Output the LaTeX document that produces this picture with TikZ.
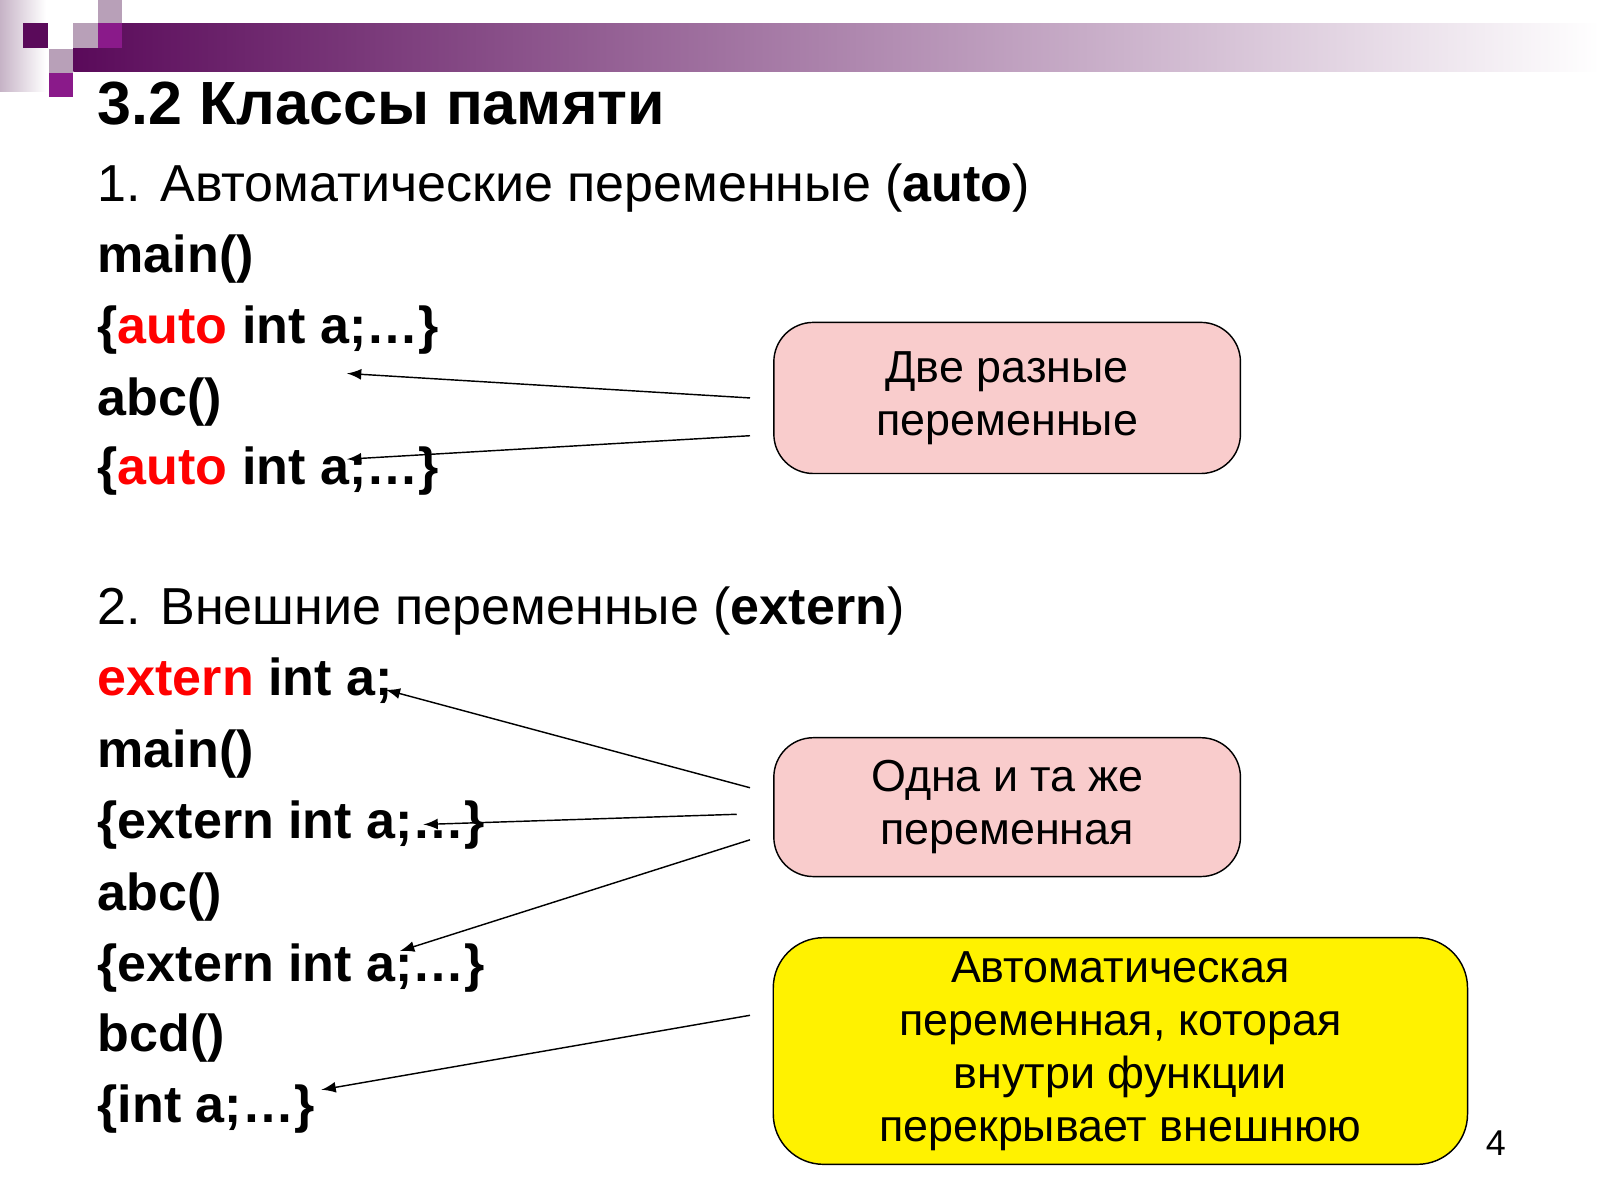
\documentclass[tikz,border=0pt]{standalone}
\usepackage{fontspec}
\setmainfont{Liberation Sans}
\begin{document}
\begin{tikzpicture}[x=0.01cm,y=-0.01cm,
 code/.style={anchor=base west,inner sep=0,font=\fontsize{14.5}{16}\selectfont\bfseries},
 head/.style={anchor=base west,inner sep=0,font=\fontsize{14.5}{16}\selectfont},
 box/.style={draw=black,rounded corners=11pt,align=center,font=\fontsize{12.5}{14.8}\selectfont,inner sep=0},
 arr/.style={-latex,thin}]
\definecolor{pur}{HTML}{5A0A5A}
\definecolor{purm}{HTML}{8A1A8A}
\definecolor{grp}{HTML}{B8A0B8}
\definecolor{pinkf}{HTML}{F9CCCC}
\useasboundingbox (0,0) rectangle (1568,1176);
\fill[white] (0,0) rectangle (1568,1176);
% decoration
\shade[left color=grp!80, right color=white] (0,0) rectangle (45,90);
\shade[left color=pur,right color=white] (72,23) rectangle (1568,70);
\fill[pur] (23,23) rectangle (47,47);
\fill[grp] (48,48) rectangle (72,72);
\fill[purm] (48,72) rectangle (72,95);
\fill[grp] (72,23) rectangle (96,47);
\fill[grp] (96,0) rectangle (120,23);
\fill[purm] (96,23) rectangle (120,47);
% texts
\node[anchor=base west,inner sep=0,font=\fontsize{17}{20}\selectfont\bfseries] (t) at (95,122) {3.2 Классы памяти};
\node[head] (h1) at (95,197) {1. Автоматические переменные (\textbf{auto})};
\node[code] (l1) at (95,267) {main()};
\node[code] (l2) at (95,337) {\{\textcolor{red}{auto} int a;…\}};
\node[code] (l3) at (95,407) {abc()};
\node[code] (l4) at (95,475) {\{\textcolor{red}{auto} int a;…\}};
\node[head] (h2) at (95,612) {2. Внешние переменные (\textbf{extern})};
\node[code] (m1) at (95,682) {\textcolor{red}{extern} int a;};
\node[code] (m2) at (95,752) {main()};
\node[code] (m3) at (95,822) {\{extern int a;…\}};
\node[code] (m4) at (95,892) {abc()};
\node[code] (m5) at (95,962) {\{extern int a;…\}};
\node[code] (m6) at (95,1030) {bcd()};
\node[code] (m7) at (95,1100) {\{int a;…\}};
\node[anchor=base,font=\fontsize{10}{12}\selectfont,inner sep=0] (pg) at (1466,1132) {4};
% boxes
\node[box,fill=pinkf,minimum width=4.57cm,minimum height=1.48cm] (b1) at (987,390) {Две разные\\переменные};
\node[box,fill=pinkf,minimum width=4.57cm,minimum height=1.36cm] (b2) at (987,791) {Одна и та же\\переменная};
\node[box,fill=yellow,minimum width=6.8cm,minimum height=2.22cm,rounded corners=14pt] (b3) at (1098,1030) {Автоматическая\\переменная, которая\\внутри функции\\перекрывает внешнюю};
% arrow anchors
\coordinate (s1) at (735,390); \coordinate (e1) at (340,366);
\coordinate (s2) at (735,427); \coordinate (e2) at (340,450);
\coordinate (s3) at (735,772); \coordinate (e3) at (378,676);
\coordinate (s4) at (722,798); \coordinate (e4) at (415,808);
\coordinate (s5) at (735,823); \coordinate (e5) at (392,932);
\coordinate (s6) at (735,995); \coordinate (e6) at (315,1068);
\foreach \i in {1,...,6} \draw[arr] (s\i) -- (e\i);
\end{tikzpicture}
\end{document}
